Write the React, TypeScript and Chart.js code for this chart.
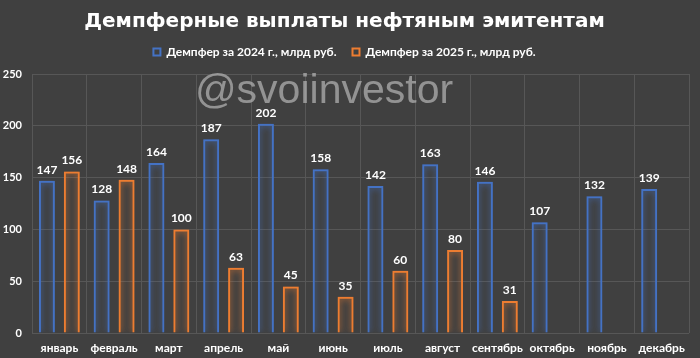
import { useEffect, useRef } from 'react';
import { Chart, registerables } from 'chart.js';
Chart.register(...registerables);

const months = ['январь', 'февраль', 'март', 'апрель', 'май', 'июнь', 'июль', 'август', 'сентябрь', 'октябрь', 'ноябрь', 'декабрь'];
const damper2024 = [147, 128, 164, 187, 202, 158, 142, 163, 146, 107, 132, 139];
const damper2025 = [156, 148, 100, 63, 45, 35, 60, 80, 31, null, null, null];
const yTicks = [0, 50, 100, 150, 200, 250];

const TITLE_FONT = "'DejaVu Sans', sans-serif";
const FONT = "Lato, 'Open Sans', sans-serif";
const BLUE = '#4472C4';
const ORANGE = '#ED7D31';
const BG = '#404040';
const GRID = '#575757';

export default function App() {
  const ref = useRef<HTMLCanvasElement>(null);
  useEffect(() => {
    if (!ref.current) return;
    const bgPlugin = {
      id: 'bg',
      beforeInit(chart: any) {
        const lg = chart.legend;
        if (lg && !lg._patched) {
          const orig = lg.fit;
          lg.fit = function () {
            orig.call(this);
            this.height = 44;
          };
          lg._patched = true;
        }
      },
      beforeDraw(chart: any) {
        const ctx = chart.ctx;
        ctx.save();
        ctx.fillStyle = BG;
        ctx.fillRect(0, 0, chart.width, chart.height);
        ctx.restore();
      },
    };
    const watermark = {
      id: 'watermark',
      beforeDatasetsDraw(chart: any) {
        const ctx = chart.ctx;
        ctx.save();
        ctx.font = "41px 'Liberation Sans', Arial, sans-serif";
        ctx.fillStyle = 'rgba(175,175,175,0.75)';
        ctx.textAlign = 'left';
        ctx.textBaseline = 'alphabetic';
        ctx.fillText('@svoiinvestor', 195, 103);
        ctx.restore();
      },
    };
    const glow = {
      id: 'glow',
      beforeDatasetDraw(chart: any, args: any) {
        const ctx = chart.ctx;
        ctx.save();
        ctx.shadowColor = chart.data.datasets[args.index].borderColor;
        ctx.shadowBlur = 6;
      },
      afterDatasetDraw(chart: any) {
        chart.ctx.restore();
      },
    };
    const labels = {
      id: 'valueLabels',
      afterDatasetsDraw(chart: any) {
        const ctx = chart.ctx;
        ctx.save();
        ctx.font = `bold 12px ${FONT}`;
        ctx.fillStyle = '#ffffff';
        ctx.textAlign = 'center';
        ctx.textBaseline = 'bottom';
        chart.data.datasets.forEach((ds: any, i: number) => {
          const meta = chart.getDatasetMeta(i);
          meta.data.forEach((el: any, j: number) => {
            const v = ds.data[j];
            if (v === null || v === undefined) return;
            ctx.fillText(String(v), el.x, el.y - 5);
          });
        });
        ctx.restore();
      },
    };
    const chart = new Chart(ref.current, {
      type: 'bar',
      data: {
        labels: months,
        datasets: [
          {
            label: 'Демпфер за 2024 г., млрд руб.',
            data: damper2024,
            backgroundColor: 'rgba(0,0,0,0)',
            borderColor: BLUE,
            borderWidth: 2,
            categoryPercentage: 0.91,
            barPercentage: 0.64,
          },
          {
            label: 'Демпфер за 2025 г., млрд руб.',
            data: damper2025,
            backgroundColor: 'rgba(0,0,0,0)',
            borderColor: ORANGE,
            borderWidth: 2,
            categoryPercentage: 0.91,
            barPercentage: 0.64,
          },
        ],
      },
      options: {
        animation: false,
        responsive: true,
        maintainAspectRatio: false,
        layout: { padding: { left: 0, right: 11, top: 1, bottom: 3 } },
        plugins: {
          title: {
            display: true,
            text: 'Демпферные выплаты нефтяным эмитентам',
            color: '#ffffff',
            font: { family: TITLE_FONT, size: 20, weight: 'bold' },
            padding: { top: 9, bottom: -4 },
          },
          legend: {
            display: true,
            labels: {
              color: '#ffffff',
              font: { family: FONT, size: 12, weight: 'bold' },
              boxWidth: 7,
              boxHeight: 7,
              padding: 16,
            },
          },
          tooltip: { enabled: false },
        },
        scales: {
          x: {
            afterFit(scale: any) {
              scale.height = 22;
            },
            grid: { color: GRID, offset: true, drawTicks: false },
            border: { display: false },
            ticks: {
              color: '#ffffff',
              font: { family: FONT, size: 12, weight: 'bold' },
              padding: 8,
              maxRotation: 0,
              autoSkip: false,
            },
          },
          y: {
            min: 0,
            max: 250,
            afterFit(scale: any) {
              scale.width = 32;
            },
            afterBuildTicks(scale: any) {
              scale.ticks = yTicks.map((v) => ({ value: v }));
            },
            grid: { color: GRID, drawTicks: false },
            border: { display: false },
            ticks: {
              color: '#ffffff',
              font: { family: FONT, size: 11, weight: 'bold' },
              padding: 10,
            },
          },
        },
      },
      plugins: [bgPlugin, watermark, glow, labels],
    });
    return () => chart.destroy();
  }, []);
  return (
    <div style={{ position: 'absolute', left: 0, top: 0, width: 700, height: 358, background: BG }}>
      <canvas ref={ref} />
    </div>
  );
}
